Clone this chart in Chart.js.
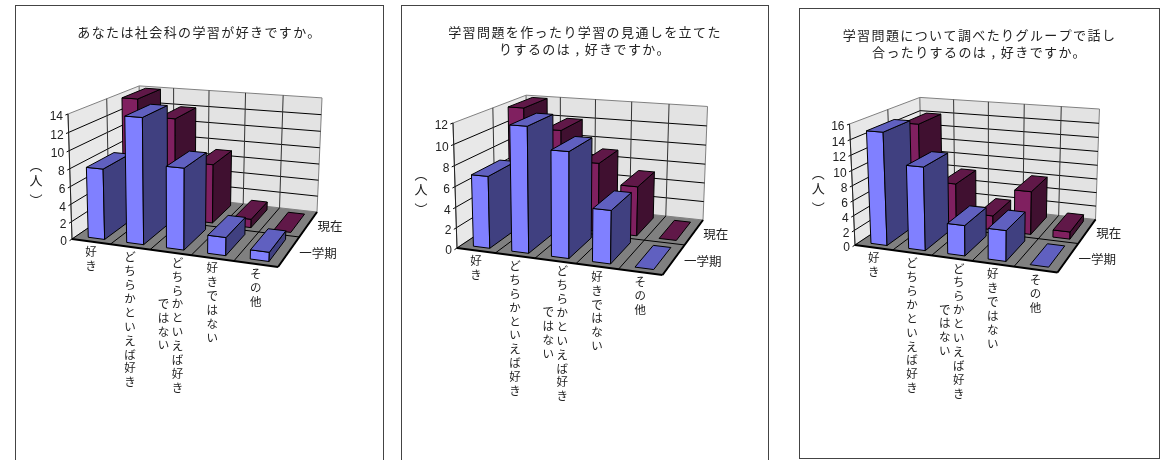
<!DOCTYPE html>
<html lang="ja">
<head>
<meta charset="utf-8">
<title>社会科アンケート</title>
<script src="https://cdn.jsdelivr.net/npm/chart.js@4"></script>
<style>
html, body { margin: 0; padding: 0; background: #fff; overflow: hidden; width: 1173px; height: 460px; }
.panel { position: absolute; box-sizing: border-box; border: 1px solid #444; background: #fff; }
.panel canvas { position: absolute; left: 0; top: 0; }
</style>
</head>
<body>
<div class="panel" id="p1" style="left:15px;top:5px;width:369px;height:480px"><canvas id="c1" width="367" height="478"></canvas></div>
<div class="panel" id="p2" style="left:401px;top:5px;width:368px;height:480px"><canvas id="c2" width="366" height="478"></canvas></div>
<div class="panel" id="p3" style="left:799px;top:8px;width:361px;height:451px"><canvas id="c3" width="359" height="449"></canvas></div>
<script>
// データ
const categories = ['好き', 'どちらかといえば好き', 'どちらかといえば好きではない', '好きではない', 'その他'];
// 縦書きの列分け
const categoryColumns = [['好き'], ['どちらかといえば好き'], ['どちらかといえば好き', 'ではない'], ['好きではない'], ['その他']];
const seriesNames = ['一学期', '現在'];

const title1 = ['あなたは社会科の学習が好きですか。'];
const first1 = [8, 14, 9, 2, 1];
const now1 = [14, 12, 7, 1, 0];
const ticks1 = [0, 2, 4, 6, 8, 10, 12, 14];

const title2 = ['学習問題を作ったり学習の見通しを立てた', 'りするのは , 好きですか。'];
const first2 = [7, 12, 10, 5, 0];
const now2 = [12, 10, 7, 5, 0];
const ticks2 = [0, 2, 4, 6, 8, 10, 12];

const title3 = ['学習問題について調べたりグループで話し', '合ったりするのは , 好きですか。'];
const first3 = [15, 11, 4, 4, 0];
const now3 = [14, 6, 2, 6, 1];
const ticks3 = [0, 2, 4, 6, 8, 10, 12, 14, 16];

const axisTitle = ['︵', '人', '︶'];

// 色 (前面, 側面, 上面)
const faceColors = [
    { front: '#8080FF', side: '#404080', top: '#6060C0' },
    { front: '#802060', side: '#401030', top: '#601848' }
];

const jpFont = '"Noto Sans CJK JP", "Noto Sans", sans-serif';

function cross(a, b, c, d) {
    const d1x = b[0] - a[0], d1y = b[1] - a[1], d2x = d[0] - c[0], d2y = d[1] - c[1];
    const t = ((c[0] - a[0]) * d2y - (c[1] - a[1]) * d2x) / (d1x * d2y - d1y * d2x);
    return [a[0] + t * d1x, a[1] + t * d1y];
}

// 6つの角から透視投影を作る
function makeCamera(box, origin) {
    const FL = box.FL, FR = box.FR, BR = box.BR, TFL = box.TFL, TBL = box.TBL, TBR = box.TBR;
    const vx = cross(FL, FR, TBL, TBR);
    const vz = cross(TFL, TBL, FR, BR);
    const vv = cross(FL, TFL, BR, TBR);
    const a = (FR[0] - FL[0]) / (vx[0] - FR[0]);
    const b = (BR[0] * (a + 1) - a * vx[0] - FL[0]) / (vz[0] - BR[0]);
    const c = (TFL[1] - FL[1]) / (vv[1] - TFL[1]);
    return function(u, d, v) {
        const w = a * u + b * d + c * v + 1;
        const x = a * u * vx[0] + b * d * vz[0] + c * v * vv[0] + FL[0];
        const y = a * u * vx[1] + b * d * vz[1] + c * v * vv[1] + FL[1];
        return [x / w - origin[0], y / w - origin[1]];
    };
}

function poly(ctx, pts, fill, stroke, lw) {
    ctx.beginPath();
    pts.forEach(function(p, i) { i ? ctx.lineTo(p[0], p[1]) : ctx.moveTo(p[0], p[1]); });
    ctx.closePath();
    if (fill) { ctx.fillStyle = fill; ctx.fill(); }
    if (stroke) { ctx.strokeStyle = stroke; ctx.lineWidth = lw || 1; ctx.stroke(); }
}

function seg(ctx, p, q, color, lw) {
    ctx.beginPath();
    ctx.moveTo(p[0], p[1]);
    ctx.lineTo(q[0], q[1]);
    ctx.strokeStyle = color;
    ctx.lineWidth = lw || 1;
    ctx.stroke();
}

const letterSpace = {
    id: 'letterSpace',
    beforeDraw: function(chart) { chart.ctx.letterSpacing = '1.4px'; }
};

const box3d = {
    id: 'box3d',
    afterDatasetsDraw: function(chart, args, opts) {
        const ctx = chart.ctx;
        const xs = chart.scales.x, ys = chart.scales.y;
        const P = opts.camera;
        const n = categories.length;
        const band = xs.width / n;
        const uOf = function(i, f) { return (xs.getPixelForValue(i) + (f - 0.5) * band - xs.left) / xs.width; };
        const vOf = function(val) { return (ys.bottom - ys.getPixelForValue(val)) / ys.height; };

        ctx.save();
        ctx.letterSpacing = '0px';
        ctx.lineJoin = 'round';

        // 壁と床
        poly(ctx, [P(0, 0, 0), P(0, 1, 0), P(0, 1, 1), P(0, 0, 1)], '#E8E8E8', '#808080');
        poly(ctx, [P(0, 1, 0), P(1, 1, 0), P(1, 1, 1), P(0, 1, 1)], '#E3E3E3', '#808080');
        poly(ctx, [P(0, 0, 0), P(1, 0, 0), P(1, 1, 0), P(0, 1, 0)], '#808080');

        // 目盛り線
        ys.ticks.forEach(function(t) {
            const v = vOf(t.value);
            if (t.value > 0 && t.value < ys.max) {
                seg(ctx, P(0, 0, v), P(0, 1, v), '#000');
                seg(ctx, P(0, 1, v), P(1, 1, v), '#000');
            }
            seg(ctx, P(0, 0, v), P(0, -0.03, v), '#000');
        });
        for (let i = 0; i <= n; i++) {
            const u = i === n ? 1 : uOf(i, 0);
            if (i > 0 && i < n) seg(ctx, P(u, 1, 0), P(u, 1, 1), '#333');
            if (i > 0) seg(ctx, P(u, 0, 0), P(u, 1, 0), '#000');
        }
        seg(ctx, P(0, 0.5, 0), P(0, 0.5, 1), '#333');
        seg(ctx, P(0, 0.5, 0), P(1, 0.5, 0), '#000');
        seg(ctx, P(0, 0, 0), P(0, 0, 1), '#222');
        seg(ctx, P(0, 0, 0), P(1, 0, 0), '#000', 2);
        seg(ctx, P(1, 0, 0), P(1, 1, 0), '#000', 2);
        seg(ctx, P(0, 0, 0), P(0, 1, 0), '#000');

        // 棒: 奥の系列から, 左から右へ
        for (let s = chart.data.datasets.length - 1; s >= 0; s--) {
            const values = chart.data.datasets[s].data;
            const col = faceColors[s];
            const d0 = s * 0.5 + 0.06, d1 = s * 0.5 + 0.43;
            values.forEach(function(val, i) {
                const u0 = uOf(i, 0.305), u1 = uOf(i, 0.735), v = vOf(val);
                if (val > 0) {
                    poly(ctx, [P(u0, d0, 0), P(u1, d0, 0), P(u1, d0, v), P(u0, d0, v)], col.front, '#000');
                    poly(ctx, [P(u1, d0, 0), P(u1, d1, 0), P(u1, d1, v), P(u1, d0, v)], col.side, '#000');
                }
                poly(ctx, [P(u0, d0, v), P(u1, d0, v), P(u1, d1, v), P(u0, d1, v)], col.top, '#000');
            });
        }

        // y軸の数字
        ctx.fillStyle = '#222';
        ctx.font = '12px "Liberation Sans", Arial, sans-serif';
        ctx.textAlign = 'right';
        ctx.textBaseline = 'middle';
        ys.ticks.forEach(function(t) {
            const p = P(0, 0, vOf(t.value));
            ctx.fillText(t.label, p[0] - 5, p[1] + 3);
        });

        // 系列名
        ctx.font = '12.5px ' + jpFont;
        ctx.textAlign = 'left';
        chart.data.datasets.forEach(function(ds, s) {
            const p = P(1, s * 0.5 + 0.25, 0);
            ctx.fillText(ds.label, p[0] + (s ? 9 : 10), p[1] + 2);
        });

        // カテゴリ名 (縦書き)
        ctx.font = '11.5px ' + jpFont;
        ctx.textAlign = 'center';
        categoryColumns.forEach(function(cols, i) {
            const p = P(uOf(i, 0.5), 0, 0);
            cols.forEach(function(text, c) {
                const cx = p[0] + (cols.length - 1) * 7 - c * 14;
                const startY = p[1] + 10 + (c > 0 ? 41 : 0);
                Array.from(text).forEach(function(ch, k) {
                    ctx.fillText(ch, cx, startY + k * 13.9);
                });
            });
        });

        // y軸タイトル
        ctx.font = '13px ' + jpFont;
        const mid = P(0, 0, 0.5);
        const titleOffsets = [-16, -1, 19];
        axisTitle.forEach(function(ch, k) {
            ctx.fillText(ch, mid[0] - 34, mid[1] + 3 + titleOffsets[k]);
        });

        ctx.restore();
    }
};

function drawChart(id, titleLines, first, now, tickValues, box, origin) {
    return new Chart(document.getElementById(id), {
        type: 'bar',
        data: {
            labels: categories,
            datasets: [
                { label: seriesNames[0], data: first, backgroundColor: 'rgba(0,0,0,0)' },
                { label: seriesNames[1], data: now, backgroundColor: 'rgba(0,0,0,0)' }
            ]
        },
        plugins: [letterSpace, box3d],
        options: {
            responsive: false,
            animation: false,
            layout: { padding: 0 },
            plugins: {
                legend: { display: false },
                tooltip: { enabled: false },
                title: {
                    display: true,
                    text: titleLines,
                    color: '#222',
                    font: { family: jpFont, size: 13, weight: 'normal', lineHeight: 17 / 13 },
                    padding: { top: 18, bottom: 10 }
                },
                box3d: { camera: makeCamera(box, origin) }
            },
            scales: {
                x: { display: false },
                y: {
                    display: false,
                    min: tickValues[0],
                    max: tickValues[tickValues.length - 1],
                    ticks: { stepSize: tickValues[1] - tickValues[0] }
                }
            }
        }
    });
}

drawChart('c1', title1, first1, now1, ticks1, {
    FL: [72, 239], FR: [278, 267], BR: [317, 212], TFL: [68, 114], TBL: [139, 86], TBR: [322, 98]
}, [16, 6]);
drawChart('c2', title2, first2, now2, ticks2, {
    FL: [457, 248], FR: [662.5, 275], BR: [703, 220], TFL: [453, 123], TBL: [524, 96], TBR: [707.5, 107.5]
}, [402, 6]);
drawChart('c3', title3, first3, now3, ticks3, {
    FL: [855, 245], FR: [1057.5, 272.5], BR: [1095.5, 219.5], TFL: [849.5, 124], TBL: [921, 97], TBR: [1099.5, 108.5]
}, [800, 9]);
</script>
</body>
</html>
